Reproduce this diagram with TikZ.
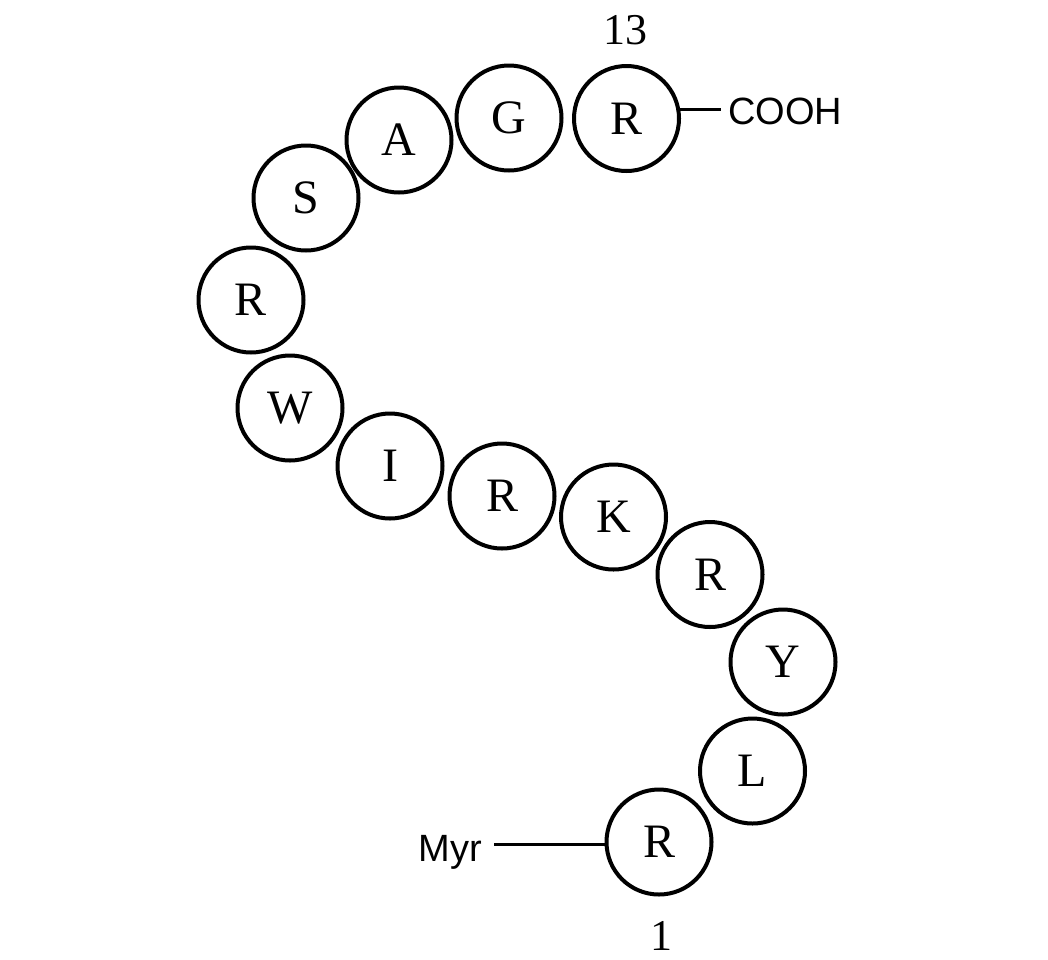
\documentclass[tikz,border=0pt]{standalone}
\usepackage{fontspec}
\setmainfont{Liberation Serif}
\newfontfamily\sansf{Liberation Sans}
\begin{document}
\begin{tikzpicture}[x=1pt,y=-1pt,
  res/.style={circle,draw=black,line width=4pt,minimum size=105pt,inner sep=0pt,
    font=\fontsize{48}{48}\selectfont},
  num/.style={inner sep=0pt,font=\fontsize{44}{44}\selectfont},
  grp/.style={inner ysep=0pt,font=\sansf\fontsize{38}{38}\selectfont},
  bond/.style={line width=3pt}]
\useasboundingbox[fill=white] (0,0) rectangle (1048,959);
\node[res] (r13) at (626.5,118.5) {R};
\node[res] (g12) at (509,118) {G};
\node[res] (a11) at (399,140) {A};
\node[res] (s10) at (306,198) {S};
\node[res] (r9) at (251,300) {R};
\node[res] (w8) at (290,408) {W};
\node[res] (i7) at (390,466) {I};
\node[res] (r6) at (502,496) {R};
\node[res] (k5) at (613.5,517) {K};
\node[res] (r4) at (710,574.5) {R};
\node[res] (y3) at (783,662) {Y};
\node[res] (l2) at (752.5,771) {L};
\node[res] (r1) at (659,842) {R};
\node[num] (n13) at (625,30) {13};
\node[num] (n1) at (661.5,936) {1};
\node[grp,inner xsep=7pt,anchor=base west] (cooh) at (721,124) {COOH};
\node[grp,inner xsep=12pt,anchor=base east] (myr) at (494,861) {Myr};
\draw[bond] (r13.10) -- (r13.10 -| cooh.west);
\draw[bond] (myr.east |- r1.183) -- (r1.183);
\end{tikzpicture}
\end{document}
